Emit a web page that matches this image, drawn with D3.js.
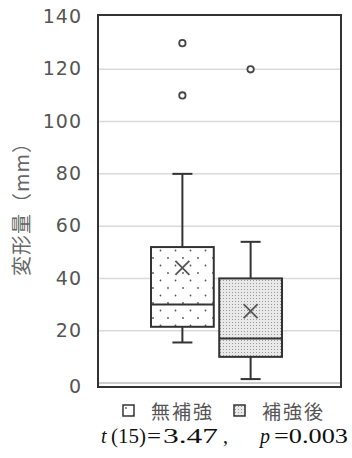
<!DOCTYPE html>
<html>
<head>
<meta charset="utf-8">
<script src="https://cdn.jsdelivr.net/npm/d3@7"></script>
<style>
  body { margin: 0; background: #fff; }
  svg { display: block; }
</style>
</head>
<body>
<svg id="chart" width="352" height="458"></svg>
<script>
// data
const groups = ['無補強', '補強後']
const q1 = [21.5, 10]
const median = [30, 17]
const q3 = [52, 40]
const whiskerLow = [15.5, 1.5]
const whiskerHigh = [80, 54]
const means = [44, 27.5]
const outliers = [[130, 110], [120]]
const yTicks = [0, 20, 40, 60, 80, 100, 120, 140]

const svg = d3.select('#chart')
const plotL = 98, plotR = 341, plotT = 17, plotB = 383

const y = d3.scaleLinear().domain([0, 140]).range([plotB, plotT])
const x = d3.scaleBand().domain(groups).range([plotL + 53, plotL + 184]).paddingInner(0.08).paddingOuter(0)

// patterns
const defs = svg.append('defs')
const p1 = defs.append('pattern').attr('id', 'dots').attr('patternUnits', 'userSpaceOnUse')
  .attr('width', 15).attr('height', 15)
p1.append('rect').attr('width', 15).attr('height', 15).attr('fill', '#fff')
p1.append('circle').attr('cx', 3).attr('cy', 3).attr('r', 0.9).attr('fill', '#555')
p1.append('circle').attr('cx', 10.5).attr('cy', 10.5).attr('r', 0.9).attr('fill', '#555')

const p2 = defs.append('pattern').attr('id', 'fine').attr('patternUnits', 'userSpaceOnUse')
  .attr('width', 3).attr('height', 3)
p2.append('rect').attr('width', 3).attr('height', 3).attr('fill', '#e9e9e9')
p2.append('rect').attr('x', 1).attr('y', 1).attr('width', 1).attr('height', 1).attr('fill', '#999')
const fills = ['url(#dots)', 'url(#fine)']

// grid
svg.append('g').selectAll('line').data(yTicks.filter(d => d > 0 && d < 140)).join('line')
  .attr('x1', plotL).attr('x2', plotR)
  .attr('y1', d => y(d)).attr('y2', d => y(d))
  .attr('stroke', '#d9d9d9').attr('stroke-width', 1.5)
svg.append('line').attr('x1', plotL).attr('x2', plotR).attr('y1', y(0)).attr('y2', y(0))
  .attr('stroke', '#bbb').attr('stroke-width', 1.5)

// y axis labels
const axis = d3.axisLeft(y).tickValues(yTicks).tickSize(0).tickPadding(16)
const ag = svg.append('g').attr('transform', `translate(${plotL},0)`).call(axis)
ag.select('.domain').remove()
ag.selectAll('text').attr('font-family', 'DejaVu Sans, Verdana, sans-serif')
  .attr('font-size', 19).attr('fill', '#555').attr('letter-spacing', 1)
  .attr('dy', (d) => d === 0 ? '0.5em' : '0.3em')

// frame
svg.append('rect').attr('x', plotL).attr('y', plotT - 2).attr('width', plotR - plotL)
  .attr('height', plotB + 4 - (plotT - 2))
  .attr('fill', 'none').attr('stroke', '#333').attr('stroke-width', 2)

// boxes
const boxes = svg.append('g').selectAll('g').data(groups).join('g')
const cx = (i) => x(groups[i]) + x.bandwidth() / 2

boxes.each(function (g, i) {
  const sel = d3.select(this)
  const c = cx(i)
  const bw = x.bandwidth()
  // whiskers
  sel.append('line').attr('x1', c).attr('x2', c).attr('y1', y(whiskerHigh[i])).attr('y2', y(q3[i]))
    .attr('stroke', '#333').attr('stroke-width', 2)
  sel.append('line').attr('x1', c).attr('x2', c).attr('y1', y(q1[i])).attr('y2', y(whiskerLow[i]))
    .attr('stroke', '#333').attr('stroke-width', 2)
  for (const w of [whiskerHigh[i], whiskerLow[i]]) {
    sel.append('line').attr('x1', c - 10).attr('x2', c + 10).attr('y1', y(w)).attr('y2', y(w))
      .attr('stroke', '#333').attr('stroke-width', 2)
  }
  sel.append('rect').attr('x', x(g)).attr('y', y(q3[i])).attr('width', bw)
    .attr('height', y(q1[i]) - y(q3[i]))
    .attr('fill', fills[i]).attr('stroke', '#333').attr('stroke-width', 2)
  sel.append('line').attr('x1', x(g)).attr('x2', x(g) + bw).attr('y1', y(median[i])).attr('y2', y(median[i]))
    .attr('stroke', '#333').attr('stroke-width', 2)
  // mean
  const my = y(means[i])
  sel.append('path').attr('d', `M${c - 7},${my - 7}L${c + 7},${my + 7}M${c + 7},${my - 7}L${c - 7},${my + 7}`)
    .attr('stroke', '#555').attr('stroke-width', 1.8).attr('fill', 'none')
  // outliers
  sel.selectAll('circle').data(outliers[i]).join('circle')
    .attr('cx', c).attr('cy', d => y(d)).attr('r', 3.2)
    .attr('fill', '#fff').attr('stroke', '#444').attr('stroke-width', 1.8)
})

// y title
svg.append('text')
  .attr('transform', 'translate(29,204) rotate(-90)')
  .attr('text-anchor', 'middle')
  .attr('font-family', 'Noto Sans CJK JP, sans-serif')
  .attr('font-size', 20).attr('fill', '#666').attr('letter-spacing', 1)
  .text('変形量（mm）')

// legend
const legend = svg.append('g').attr('transform', 'translate(123,405)')
const legX = [0, 111]
groups.forEach((g, i) => {
  legend.append('rect').attr('x', legX[i]).attr('y', 0).attr('width', 11).attr('height', 11)
    .attr('fill', fills[i]).attr('stroke', '#333').attr('stroke-width', 1.5)
  legend.append('text').attr('x', legX[i] + 28).attr('y', 14)
    .attr('font-family', 'Noto Sans CJK JP, sans-serif')
    .attr('font-size', 19).attr('fill', '#555').attr('letter-spacing', 2).text(g)
})

// stats
const st = svg.append('text').attr('y', 443)
  .attr('font-family', 'Liberation Serif, Times New Roman, serif').attr('font-size', 20).attr('fill', '#111')
st.append('tspan').attr('x', 101).attr('font-style', 'italic').text('t')
st.append('tspan').attr('x', 111).attr('textLength', 35).attr('lengthAdjust', 'spacingAndGlyphs').text('(15)')
st.append('tspan').attr('x', 147).attr('textLength', 14).attr('lengthAdjust', 'spacingAndGlyphs').text('=')
st.append('tspan').attr('x', 163).attr('textLength', 55).attr('lengthAdjust', 'spacingAndGlyphs').text('3.47')
st.append('tspan').attr('x', 223).text(',')
st.append('tspan').attr('x', 260).attr('font-style', 'italic').text('p')
st.append('tspan').attr('x', 274).attr('textLength', 74).attr('lengthAdjust', 'spacingAndGlyphs').text('=0.003')
</script>
</body>
</html>
